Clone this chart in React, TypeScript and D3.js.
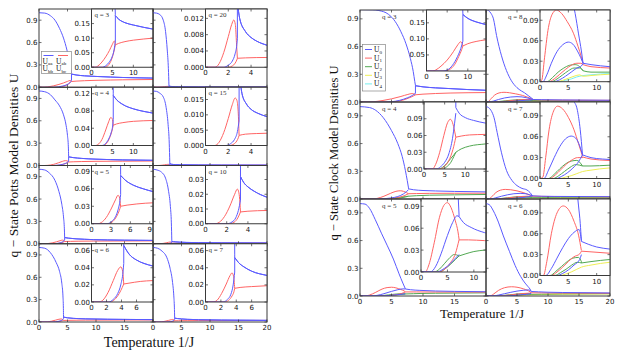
import React from "react";
import * as d3 from "d3";

type Pt = [number, number];
type Curve = { c: string; pts: Pt[] };

// ---------- Potts model: U_aa (pre Tc), common U after Tc, U_bb, U_ab, U_ab after Tc, U_bc ----------
const pottsQ3Aa: Pt[] = [[0, 1], [1, 0.995], [2, 0.96], [2.8, 0.9], [3.6, 0.79], [4.3, 0.66], [4.9, 0.5], [5.3, 0.36], [5.55, 0.25], [5.7, 0.18]];
const pottsQ3Post: Pt[] = [[5.7, 0.177], [6.5, 0.165], [8, 0.153], [10, 0.145], [12.5, 0.137], [14.7, 0.131], [17, 0.127], [20, 0.123]];
const pottsQ3Bb: Pt[] = [[0, 0], [2.6, 0], [3.4, 0.005], [4.2, 0.017], [4.9, 0.035], [5.4, 0.06], [5.7, 0.09]];
const pottsQ3Ab: Pt[] = [[0, 0], [0.9, 0], [1.5, 0.004], [2.5, 0.018], [3.5, 0.038], [4.3, 0.058], [5, 0.079], [5.45, 0.09], [5.6, 0.088], [5.7, 0.078]];
const pottsQ3AbPost: Pt[] = [[5.7, 0.077], [6.5, 0.082], [8, 0.088], [10, 0.093], [12.5, 0.097], [14.7, 0.1], [20, 0.104]];
const pottsQ3Bc: Pt[] = [[0, 0], [3.2, 0], [3.9, 0.005], [4.6, 0.02], [5.2, 0.045], [5.5, 0.063], [5.7, 0.077]];

const pottsQ4Aa: Pt[] = [[0, 1], [1, 0.99], [2, 0.95], [2.8, 0.88], [3.6, 0.8], [4.3, 0.68], [4.75, 0.54], [5.0, 0.4], [5.15, 0.25], [5.2, 0.12]];
const pottsQ4Post: Pt[] = [[5.2, 0.116], [6, 0.106], [7.5, 0.095], [10, 0.085], [12.5, 0.079], [14.7, 0.075], [20, 0.07]];
const pottsQ4Bb: Pt[] = [[0, 0], [2.5, 0], [3.3, 0.004], [4.1, 0.015], [4.7, 0.03], [5.05, 0.045], [5.2, 0.06]];
const pottsQ4Ab: Pt[] = [[0, 0], [1, 0], [1.5, 0.002], [2.5, 0.014], [3.4, 0.036], [4.1, 0.055], [4.6, 0.065], [4.95, 0.062], [5.2, 0.047]];
const pottsQ4AbPost: Pt[] = [[5.2, 0.047], [6, 0.05], [7.5, 0.053], [10, 0.056], [14.7, 0.058], [20, 0.06]];
const pottsQ4Bc: Pt[] = [[0, 0], [2.9, 0], [3.6, 0.005], [4.3, 0.017], [4.9, 0.034], [5.2, 0.047]];

const pottsQ5Aa: Pt[] = [[0, 1], [1, 0.99], [1.8, 0.95], [2.8, 0.85], [3.5, 0.7], [4.0, 0.53], [4.3, 0.36], [4.45, 0.2], [4.5, 0.085]];
const pottsQ5Post: Pt[] = [[4.5, 0.083], [5.2, 0.075], [6.5, 0.066], [8, 0.06], [9.6, 0.055], [12, 0.051], [15, 0.048], [20, 0.045]];
const pottsQ5Bb: Pt[] = [[0, 0], [2.4, 0], [3.1, 0.004], [3.7, 0.012], [4.1, 0.024], [4.4, 0.04], [4.5, 0.05]];
const pottsQ5Ab: Pt[] = [[0, 0], [1, 0], [1.5, 0.002], [2.3, 0.011], [3.1, 0.027], [3.7, 0.041], [4.1, 0.049], [4.3, 0.046], [4.5, 0.03]];
const pottsQ5AbPost: Pt[] = [[4.5, 0.03], [5.5, 0.032], [7, 0.034], [9.6, 0.036], [20, 0.038]];
const pottsQ5Bc: Pt[] = [[0, 0], [2.7, 0], [3.3, 0.004], [3.9, 0.013], [4.3, 0.023], [4.5, 0.03]];

const pottsQ6Aa: Pt[] = [[0, 1], [1, 0.99], [2, 0.93], [3, 0.8], [3.6, 0.68], [4.0, 0.52], [4.2, 0.35], [4.28, 0.18], [4.3, 0.068]];
const pottsQ6Post: Pt[] = [[4.3, 0.066], [5, 0.056], [6, 0.049], [7, 0.045], [8.2, 0.042], [12, 0.037], [16, 0.034], [20, 0.032]];
const pottsQ6Bb: Pt[] = [[0, 0], [2.3, 0], [2.9, 0.003], [3.5, 0.01], [3.9, 0.02], [4.2, 0.035], [4.3, 0.045]];
const pottsQ6Ab: Pt[] = [[0, 0], [1, 0], [1.5, 0.002], [2.2, 0.011], [2.9, 0.025], [3.5, 0.037], [3.9, 0.041], [4.15, 0.036], [4.3, 0.021]];
const pottsQ6AbPost: Pt[] = [[4.3, 0.021], [5, 0.022], [6.5, 0.024], [8.2, 0.025], [20, 0.027]];
const pottsQ6Bc: Pt[] = [[0, 0], [2.5, 0], [3.1, 0.003], [3.7, 0.01], [4.1, 0.017], [4.3, 0.021]];

const pottsQ20Aa: Pt[] = [[0, 1], [0.6, 0.995], [1.2, 0.975], [1.8, 0.9], [2.2, 0.75], [2.5, 0.5], [2.7, 0.25], [2.8, 0.02]];
const pottsQ20Post: Pt[] = [[2.8, 0.016], [3.0, 0.012], [3.5, 0.0088], [4, 0.0073], [4.5, 0.0064], [5.4, 0.0054], [8, 0.004], [12, 0.003], [20, 0.0022]];
const pottsQ20Bb: Pt[] = [[0, 0], [1.6, 0], [2.0, 0.0005], [2.35, 0.0015], [2.6, 0.0033], [2.75, 0.0055], [2.8, 0.007]];
const pottsQ20Ab: Pt[] = [[0, 0], [0.8, 0], [1.2, 0.0009], [1.6, 0.0036], [2.0, 0.0075], [2.3, 0.0105], [2.48, 0.0116], [2.62, 0.0105], [2.72, 0.006], [2.8, 0.0022]];
const pottsQ20AbPost: Pt[] = [[2.8, 0.0022], [3.5, 0.0023], [5.4, 0.0024], [20, 0.0025]];
const pottsQ20Bc: Pt[] = [[0, 0], [2.0, 0], [2.35, 0.0003], [2.6, 0.001], [2.75, 0.0018], [2.8, 0.0022]];

const pottsQ15Aa: Pt[] = [[0, 1], [0.6, 0.995], [1.2, 0.97], [1.8, 0.92], [2.3, 0.78], [2.65, 0.55], [2.85, 0.3], [2.95, 0.03]];
const pottsQ15Post: Pt[] = [[2.95, 0.025], [3.2, 0.017], [3.6, 0.0135], [4, 0.0118], [4.6, 0.0105], [5.4, 0.0094], [8, 0.007], [12, 0.0055], [20, 0.0045]];
const pottsQ15Bb: Pt[] = [[0, 0], [1.8, 0], [2.2, 0.0006], [2.55, 0.002], [2.8, 0.0045], [2.95, 0.008]];
const pottsQ15Ab: Pt[] = [[0, 0], [0.8, 0], [1.2, 0.0011], [1.6, 0.0042], [2.0, 0.0088], [2.35, 0.0133], [2.6, 0.0155], [2.75, 0.0148], [2.87, 0.011], [2.95, 0.0033]];
const pottsQ15AbPost: Pt[] = [[2.95, 0.0033], [3.5, 0.0037], [4.5, 0.0039], [5.4, 0.004], [20, 0.0045]];
const pottsQ15Bc: Pt[] = [[0, 0], [2.1, 0], [2.5, 0.0005], [2.75, 0.0015], [2.9, 0.0027], [2.95, 0.0033]];

const pottsQ10Aa: Pt[] = [[0, 1], [0.7, 0.99], [1.5, 0.96], [2.2, 0.88], [2.7, 0.72], [3.05, 0.5], [3.22, 0.28], [3.3, 0.04]];
const pottsQ10Post: Pt[] = [[3.3, 0.032], [3.6, 0.028], [4, 0.025], [4.6, 0.022], [5.8, 0.018], [8, 0.015], [12, 0.012], [20, 0.01]];
const pottsQ10Bb: Pt[] = [[0, 0], [2.0, 0], [2.5, 0.0012], [2.85, 0.004], [3.1, 0.009], [3.3, 0.016]];
const pottsQ10Ab: Pt[] = [[0, 0], [0.9, 0], [1.3, 0.001], [1.8, 0.005], [2.3, 0.012], [2.75, 0.02], [3.0, 0.0235], [3.15, 0.021], [3.25, 0.014], [3.3, 0.008]];
const pottsQ10AbPost: Pt[] = [[3.3, 0.008], [4, 0.0085], [5.8, 0.009], [20, 0.01]];
const pottsQ10Bc: Pt[] = [[0, 0], [2.3, 0], [2.7, 0.001], [3.05, 0.004], [3.3, 0.008]];

const pottsQ7Aa: Pt[] = [[0, 1], [0.8, 0.99], [1.6, 0.95], [2.4, 0.87], [3.0, 0.72], [3.4, 0.55], [3.65, 0.35], [3.75, 0.2], [3.8, 0.055]];
const pottsQ7Post: Pt[] = [[3.8, 0.052], [4.3, 0.046], [5, 0.041], [6, 0.036], [8, 0.031], [12, 0.026], [20, 0.022]];
const pottsQ7Bb: Pt[] = [[0, 0], [2.3, 0], [2.85, 0.003], [3.3, 0.009], [3.6, 0.02], [3.8, 0.035]];
const pottsQ7Ab: Pt[] = [[0, 0], [1, 0], [1.5, 0.002], [2.1, 0.01], [2.7, 0.021], [3.2, 0.031], [3.45, 0.034], [3.65, 0.03], [3.8, 0.016]];
const pottsQ7AbPost: Pt[] = [[3.8, 0.016], [4.5, 0.017], [6, 0.018], [8, 0.019], [20, 0.021]];
const pottsQ7Bc: Pt[] = [[0, 0], [2.5, 0], [3.0, 0.002], [3.45, 0.007], [3.7, 0.012], [3.8, 0.016]];

// ---------- Clock model ----------
const clockQ3U0a: Pt[] = [[0, 1], [2, 0.998], [3, 0.99], [4.5, 0.95], [5.6, 0.87], [6.5, 0.76], [7.3, 0.63], [8, 0.47], [8.45, 0.33], [8.7, 0.22], [8.8, 0.18]];
const clockQ3U0Post: Pt[] = [[8.8, 0.176], [10, 0.164], [12, 0.153], [14.3, 0.145], [17, 0.135], [20, 0.127]];
const clockQ3U0b: Pt[] = [[0, 0], [4, 0], [5, 0.003], [6.3, 0.018], [7.5, 0.045], [8.3, 0.07], [8.8, 0.093]];
const clockQ3U1a: Pt[] = [[0, 0], [1.5, 0], [2.2, 0.003], [3.5, 0.015], [5, 0.034], [6.5, 0.06], [7.6, 0.082], [8.25, 0.091], [8.6, 0.087], [8.8, 0.078]];
const clockQ3U1Post: Pt[] = [[8.8, 0.078], [10, 0.085], [12, 0.092], [14.3, 0.097], [20, 0.102]];
const clockQ3U1b: Pt[] = [[0, 0], [4.5, 0], [5.5, 0.004], [6.8, 0.02], [7.8, 0.045], [8.5, 0.066], [8.8, 0.078]];

const clockQ4U0a: Pt[] = [[0, 1], [1.5, 0.99], [2.5, 0.96], [3.7, 0.88], [5, 0.74], [6, 0.6], [6.7, 0.46], [7.2, 0.31], [7.5, 0.2], [7.7, 0.12]];
const clockQ4U0Post: Pt[] = [[7.7, 0.11], [8.5, 0.1], [10, 0.092], [12, 0.087], [15, 0.082], [20, 0.077]];
const clockQ4U0b: Pt[] = [[0, 0], [3, 0], [4, 0.004], [5, 0.012], [6, 0.027], [6.9, 0.055], [7.4, 0.082], [7.7, 0.1]];
const clockQ4U1a: Pt[] = [[0, 0], [2, 0], [2.8, 0.008], [3.8, 0.03], [4.8, 0.06], [5.7, 0.083], [6.4, 0.089], [6.9, 0.083], [7.4, 0.068], [7.7, 0.057]];
const clockQ4U1Post: Pt[] = [[7.7, 0.057], [9, 0.059], [11, 0.061], [15, 0.062], [20, 0.063]];
const clockQ4U1b: Pt[] = [[0, 0], [4, 0], [5, 0.005], [6, 0.015], [7, 0.035], [7.7, 0.057]];
const clockQ4U2a: Pt[] = [[0, 0], [3.5, 0], [4.5, 0.003], [5.5, 0.01], [6.5, 0.019], [7.2, 0.025], [7.7, 0.03]];
const clockQ4U2Post: Pt[] = [[7.7, 0.03], [9, 0.036], [11, 0.041], [15, 0.045], [20, 0.049]];
const clockQ4U2b: Pt[] = [[0, 0], [4.5, 0], [5.5, 0.004], [6.5, 0.012], [7.2, 0.022], [7.7, 0.03]];

const clockQ5U0a: Pt[] = [[0, 1], [0.8, 0.995], [1.5, 0.95], [2.4, 0.83], [3.4, 0.68], [4.3, 0.55], [5.3, 0.4], [6.2, 0.24], [6.8, 0.14], [7.2, 0.078]];
const clockQ5U0Post: Pt[] = [[7.2, 0.076], [8, 0.068], [9.5, 0.061], [12, 0.054], [15, 0.05], [20, 0.046]];
const clockQ5U0b: Pt[] = [[0, 0], [1.8, 0], [2.8, 0.008], [3.8, 0.025], [5, 0.05], [6, 0.068], [6.8, 0.077], [7.2, 0.076]];
const clockQ5U0c: Pt[] = [[0, 0], [3, 0], [4, 0.003], [5, 0.008], [6, 0.015], [7.2, 0.024]];
const clockQ5U1a: Pt[] = [[0, 0], [0.8, 0], [1.5, 0.01], [2.5, 0.04], [3.5, 0.075], [4.3, 0.091], [5, 0.095], [5.7, 0.088], [6.5, 0.07], [7, 0.055], [7.2, 0.045]];
const clockQ5U1Post: Pt[] = [[7.2, 0.044], [9, 0.044], [12, 0.043], [20, 0.042]];
const clockQ5U1b: Pt[] = [[0, 0], [3.5, 0], [4.5, 0.004], [5.5, 0.012], [6.5, 0.025], [7.2, 0.044]];
const clockQ5U2a: Pt[] = [[0, 0], [2.5, 0], [3.5, 0.004], [4.5, 0.012], [5.5, 0.02], [6.3, 0.024], [7.2, 0.022]];
const clockQ5U2Post: Pt[] = [[7.2, 0.022], [8.5, 0.025], [10, 0.028], [12, 0.03], [20, 0.034]];
const clockQ5U2b: Pt[] = [[0, 0], [3.5, 0], [4.5, 0.004], [5.5, 0.01], [6.5, 0.017], [7.2, 0.022]];

const clockQ8U0a: Pt[] = [[0, 1], [0.4, 0.99], [0.8, 0.96], [1.2, 0.9], [1.7, 0.72], [2.5, 0.5], [3.3, 0.34], [4.1, 0.23], [5, 0.155], [5.7, 0.12], [6.2, 0.1], [6.8, 0.07], [7.3, 0.045], [7.6, 0.027]];
const clockQ8U0Post: Pt[] = [[7.6, 0.027], [9, 0.025], [12.3, 0.022], [20, 0.019]];
const clockQ8U0b: Pt[] = [[0, 0], [0.5, 0], [1.2, 0.01], [2, 0.027], [3, 0.044], [4, 0.054], [5, 0.058], [5.8, 0.055], [6.6, 0.045], [7.2, 0.035], [7.6, 0.027]];
const clockQ8U0c: Pt[] = [[0, 0], [2.5, 0], [3.5, 0.003], [4.5, 0.008], [5.5, 0.014], [6.5, 0.02], [7.3, 0.023], [7.6, 0.027]];
const clockQ8U1a: Pt[] = [[0, 0], [0.3, 0.002], [0.8, 0.035], [1.4, 0.075], [2.1, 0.098], [2.9, 0.105], [3.8, 0.1], [4.8, 0.088], [5.9, 0.071], [6.7, 0.052], [7.3, 0.036], [7.6, 0.027]];
const clockQ8U1b: Pt[] = [[0, 0], [1.5, 0], [2.5, 0.004], [3.5, 0.011], [4.5, 0.018], [5.5, 0.024], [6.5, 0.027], [7.2, 0.027], [7.6, 0.025]];
const clockQ8U1Post: Pt[] = [[7.6, 0.025], [9, 0.022], [12.3, 0.02], [20, 0.018]];
const clockQ8U2a: Pt[] = [[0, 0], [1.2, 0], [2.2, 0.006], [3.2, 0.014], [4.2, 0.02], [5.2, 0.024], [6.2, 0.025], [7, 0.022], [7.6, 0.016]];
const clockQ8U2b: Pt[] = [[0, 0], [2, 0], [3, 0.004], [4, 0.01], [5, 0.016], [6, 0.02], [7, 0.02], [7.6, 0.016]];
const clockQ8U2Post: Pt[] = [[7.6, 0.016], [9, 0.014], [12.3, 0.014], [20, 0.013]];
const clockQ8U3a: Pt[] = [[0, 0], [3, 0], [4, 0.002], [5, 0.005], [6, 0.008], [7, 0.01], [7.6, 0.008], [9, 0.009], [12.3, 0.011], [20, 0.012]];
const clockQ8U4a: Pt[] = [[0, 0], [3.5, 0], [4.5, 0.002], [5.5, 0.004], [6.5, 0.007], [7.6, 0.009], [9, 0.01], [12.3, 0.012], [20, 0.012]];

const clockQ7U0a: Pt[] = [[0, 1], [0.4, 0.99], [0.8, 0.96], [1.3, 0.88], [1.8, 0.72], [2.5, 0.5], [3.3, 0.31], [4.2, 0.2], [5, 0.145], [5.8, 0.115], [6.6, 0.098], [7.1, 0.07], [7.5, 0.034]];
const clockQ7U0Post: Pt[] = [[7.5, 0.034], [9, 0.03], [11, 0.028], [20, 0.025]];
const clockQ7U0b: Pt[] = [[0, 0], [0.7, 0], [1.5, 0.012], [2.5, 0.03], [3.5, 0.046], [4.5, 0.057], [5.5, 0.061], [6.3, 0.058], [7, 0.047], [7.5, 0.034]];
const clockQ7U0c: Pt[] = [[0, 0], [2.8, 0], [3.8, 0.003], [4.8, 0.008], [5.8, 0.015], [6.8, 0.024], [7.5, 0.034]];
const clockQ7U1a: Pt[] = [[0, 0], [0.5, 0.002], [1, 0.03], [1.6, 0.07], [2.3, 0.095], [3.1, 0.104], [4, 0.1], [5, 0.088], [6, 0.07], [6.8, 0.05], [7.5, 0.032]];
const clockQ7U1b: Pt[] = [[0, 0], [1.7, 0], [2.7, 0.005], [3.7, 0.013], [4.7, 0.021], [5.7, 0.027], [6.6, 0.03], [7.5, 0.03]];
const clockQ7U1Post: Pt[] = [[7.5, 0.031], [9, 0.028], [12, 0.026], [20, 0.024]];
const clockQ7U2a: Pt[] = [[0, 0], [1.5, 0], [2.5, 0.006], [3.5, 0.014], [4.5, 0.021], [5.5, 0.025], [6.5, 0.026], [7.5, 0.018]];
const clockQ7U2b: Pt[] = [[0, 0], [2.3, 0], [3.3, 0.004], [4.3, 0.01], [5.3, 0.016], [6.3, 0.02], [7.5, 0.018]];
const clockQ7U2Post: Pt[] = [[7.5, 0.018], [9, 0.018], [12, 0.019], [20, 0.02]];
const clockQ7U3a: Pt[] = [[0, 0], [3.5, 0], [4.5, 0.002], [5.5, 0.004], [6.5, 0.007], [7.5, 0.01], [9, 0.012], [12, 0.015], [20, 0.017]];

const clockQ6U0a: Pt[] = [[0, 1], [0.5, 0.99], [1.2, 0.92], [2, 0.8], [2.8, 0.65], [3.8, 0.48], [4.7, 0.33], [5.6, 0.21], [6.3, 0.14], [6.8, 0.1], [7.1, 0.075], [7.3, 0.05]];
const clockQ6U0Post: Pt[] = [[7.3, 0.049], [8.5, 0.045], [10, 0.041], [12.3, 0.038], [20, 0.033]];
const clockQ6U0b: Pt[] = [[0, 0], [1, 0], [2, 0.01], [3, 0.025], [4, 0.04], [5, 0.053], [6, 0.062], [6.9, 0.066], [7.3, 0.05]];
const clockQ6U0c: Pt[] = [[0, 0], [3, 0], [4, 0.003], [5, 0.008], [6, 0.015], [7, 0.023], [7.3, 0.03]];
const clockQ6U1a: Pt[] = [[0, 0], [0.6, 0], [1.2, 0.02], [2, 0.06], [3, 0.09], [4.1, 0.1], [5, 0.095], [6, 0.078], [6.8, 0.058], [7.3, 0.036]];
const clockQ6U1b: Pt[] = [[0, 0], [2, 0], [3, 0.005], [4, 0.012], [5, 0.02], [6, 0.027], [7, 0.031], [7.3, 0.035]];
const clockQ6U1Post: Pt[] = [[7.3, 0.035], [9, 0.034], [12.3, 0.032], [20, 0.03]];
const clockQ6U2a: Pt[] = [[0, 0], [1.8, 0], [2.8, 0.006], [3.8, 0.013], [4.8, 0.02], [5.8, 0.025], [6.8, 0.026], [7.3, 0.02]];
const clockQ6U2b: Pt[] = [[0, 0], [2.6, 0], [3.6, 0.004], [4.6, 0.009], [5.6, 0.015], [6.6, 0.019], [7.3, 0.018]];
const clockQ6U2Post: Pt[] = [[7.3, 0.018], [9, 0.02], [12.3, 0.023], [20, 0.026]];
const clockQ6U3a: Pt[] = [[0, 0], [3.5, 0], [4.5, 0.002], [5.5, 0.005], [6.5, 0.009], [7.3, 0.012], [9, 0.015], [12.3, 0.019], [20, 0.022]];

const mainYTicks = [0, 0.3, 0.6, 0.9];
const mainXTicks = [0, 5, 10, 15, 20];
const clockLegend = ["0", "1", "2", "3", "4"];

const COLORS: Record<string, string> = {
  b: "#5a5aff",
  r: "#ff6464",
  g: "#52a852",
  y: "#eeee55",
  c: "#77eeee",
};

function potts(aa: Pt[], post: Pt[], bb: Pt[], ab: Pt[], abPost: Pt[], bc: Pt[]): Curve[] {
  return [
    { c: "r", pts: [...ab, ...abPost] },
    { c: "r", pts: bc },
    { c: "b", pts: [...bb, ...post] },
    { c: "b", pts: [...aa, ...post] },
  ];
}

const pottsPanels = [
  { q: "3", col: 0, row: 0, curves: potts(pottsQ3Aa, pottsQ3Post, pottsQ3Bb, pottsQ3Ab, pottsQ3AbPost, pottsQ3Bc), xMax: 14.7, yMax: 0.2, xt: [0, 5, 10], yt: [0, 0.05, 0.1, 0.15], f: ".2f" },
  { q: "20", col: 1, row: 0, curves: potts(pottsQ20Aa, pottsQ20Post, pottsQ20Bb, pottsQ20Ab, pottsQ20AbPost, pottsQ20Bc), xMax: 5.4, yMax: 0.0143, xt: [0, 2, 4], yt: [0, 0.004, 0.008, 0.012], f: ".3f" },
  { q: "4", col: 0, row: 1, curves: potts(pottsQ4Aa, pottsQ4Post, pottsQ4Bb, pottsQ4Ab, pottsQ4AbPost, pottsQ4Bc), xMax: 14.7, yMax: 0.135, xt: [0, 5, 10], yt: [0, 0.04, 0.08, 0.12], f: ".2f" },
  { q: "15", col: 1, row: 1, curves: potts(pottsQ15Aa, pottsQ15Post, pottsQ15Bb, pottsQ15Ab, pottsQ15AbPost, pottsQ15Bc), xMax: 5.4, yMax: 0.019, xt: [0, 2, 4], yt: [0, 0.005, 0.01, 0.015], f: ".3f" },
  { q: "5", col: 0, row: 2, curves: potts(pottsQ5Aa, pottsQ5Post, pottsQ5Bb, pottsQ5Ab, pottsQ5AbPost, pottsQ5Bc), xMax: 9.5, yMax: 0.1, xt: [0, 3, 6, 9], yt: [0, 0.03, 0.06, 0.09], f: ".2f" },
  { q: "10", col: 1, row: 2, curves: potts(pottsQ10Aa, pottsQ10Post, pottsQ10Bb, pottsQ10Ab, pottsQ10AbPost, pottsQ10Bc), xMax: 5.8, yMax: 0.0395, xt: [0, 2, 4], yt: [0, 0.01, 0.02, 0.03], f: ".2f" },
  { q: "6", col: 0, row: 3, curves: potts(pottsQ6Aa, pottsQ6Post, pottsQ6Bb, pottsQ6Ab, pottsQ6AbPost, pottsQ6Bc), xMax: 8.2, yMax: 0.068, xt: [0, 2, 4, 6], yt: [0, 0.02, 0.04, 0.06], f: ".2f" },
  { q: "7", col: 1, row: 3, curves: potts(pottsQ7Aa, pottsQ7Post, pottsQ7Bb, pottsQ7Ab, pottsQ7AbPost, pottsQ7Bc), xMax: 8, yMax: 0.068, xt: [0, 2, 4, 6], yt: [0, 0.02, 0.04, 0.06], f: ".2f" },
];

const clockPanels = [
  {
    q: "3", col: 0, row: 0, xMax: 14.4, yMax: 0.19, yt: [0.05, 0.1, 0.15], inLeft: 426.5, inBottom: 71,
    curves: [
      { c: "r", pts: [...clockQ3U1a, ...clockQ3U1Post] }, { c: "r", pts: clockQ3U1b },
      { c: "b", pts: [...clockQ3U0b, ...clockQ3U0Post] }, { c: "b", pts: [...clockQ3U0a, ...clockQ3U0Post] },
    ],
  },
  {
    q: "4", col: 0, row: 1, xMax: 15, yMax: 0.12, yt: [0, 0.03, 0.06, 0.09], inLeft: 424, inBottom: 169,
    curves: [
      { c: "g", pts: [...clockQ4U2a, ...clockQ4U2Post] }, { c: "g", pts: clockQ4U2b },
      { c: "r", pts: [...clockQ4U1a, ...clockQ4U1Post] }, { c: "r", pts: clockQ4U1b },
      { c: "b", pts: clockQ4U0b }, { c: "b", pts: [...clockQ4U0a, ...clockQ4U0Post] },
    ],
  },
  {
    q: "5", col: 0, row: 2, xMax: 12.3, yMax: 0.1, yt: [0, 0.03, 0.06, 0.09], inLeft: 421, inBottom: 272,
    curves: [
      { c: "g", pts: [...clockQ5U2a, ...clockQ5U2Post] }, { c: "g", pts: clockQ5U2b },
      { c: "r", pts: [...clockQ5U1a, ...clockQ5U1Post] }, { c: "r", pts: clockQ5U1b },
      { c: "b", pts: clockQ5U0b }, { c: "b", pts: clockQ5U0c }, { c: "b", pts: [...clockQ5U0a, ...clockQ5U0Post] },
    ],
  },
  {
    q: "8", col: 1, row: 0, xMax: 12.35, yMax: 0.105, yt: [0, 0.03, 0.06, 0.09], inLeft: 540, inBottom: 81.7,
    curves: [
      { c: "c", pts: clockQ8U4a }, { c: "y", pts: clockQ8U3a },
      { c: "g", pts: [...clockQ8U2a, ...clockQ8U2Post] }, { c: "g", pts: clockQ8U2b },
      { c: "r", pts: clockQ8U1a }, { c: "r", pts: [...clockQ8U1b, ...clockQ8U1Post] },
      { c: "b", pts: clockQ8U0b }, { c: "b", pts: clockQ8U0c }, { c: "b", pts: [...clockQ8U0a, ...clockQ8U0Post] },
    ],
  },
  {
    q: "7", col: 1, row: 1, xMax: 12.35, yMax: 0.11, yt: [0, 0.03, 0.06, 0.09], inLeft: 540, inBottom: 178.5,
    curves: [
      { c: "y", pts: clockQ7U3a },
      { c: "g", pts: [...clockQ7U2a, ...clockQ7U2Post] }, { c: "g", pts: clockQ7U2b },
      { c: "r", pts: clockQ7U1a }, { c: "r", pts: [...clockQ7U1b, ...clockQ7U1Post] },
      { c: "b", pts: clockQ7U0b }, { c: "b", pts: clockQ7U0c }, { c: "b", pts: [...clockQ7U0a, ...clockQ7U0Post] },
    ],
  },
  {
    q: "6", col: 1, row: 2, xMax: 12.35, yMax: 0.11, yt: [0, 0.03, 0.06, 0.09], inLeft: 540, inBottom: 275.5,
    curves: [
      { c: "y", pts: clockQ6U3a },
      { c: "g", pts: [...clockQ6U2a, ...clockQ6U2Post] }, { c: "g", pts: clockQ6U2b },
      { c: "r", pts: clockQ6U1a }, { c: "r", pts: [...clockQ6U1b, ...clockQ6U1Post] },
      { c: "b", pts: clockQ6U0b }, { c: "b", pts: clockQ6U0c }, { c: "b", pts: [...clockQ6U0a, ...clockQ6U0Post] },
    ],
  },
];

// split at repeated x (vertical jumps), smooth each piece
function pathOf(pts: Pt[], x: (v: number) => number, y: (v: number) => number): string {
  const segs: Pt[][] = [];
  let cur: Pt[] = [];
  pts.forEach((p, i) => {
    if (i > 0 && p[0] === pts[i - 1][0]) {
      segs.push(cur);
      cur = [];
    }
    cur.push(p);
  });
  segs.push(cur);
  const line = d3.line<Pt>().x((d) => x(d[0])).y((d) => y(d[1])).curve(d3.curveMonotoneX);
  return segs
    .map((s, i) => {
      const d = s.length > 1 ? (line(s) as string) : `M${x(s[0][0])},${y(s[0][1])}`;
      return i === 0 ? d : "L" + d.slice(1);
    })
    .join("");
}

const TICK_FONT = "DejaVu Sans, sans-serif";
const SERIF = "Liberation Serif, DejaVu Serif, serif";

type AxesProps = {
  id: string;
  left: number; right: number; top: number; bottom: number; scaleTop?: number;
  xMax: number; yMax: number;
  xTicks: number[]; yTicks: number[];
  xLabels?: number[]; yLabels?: boolean; yFmt?: string;
  curves: Curve[]; fill?: boolean;
};

function Axes(p: AxesProps) {
  const x = d3.scaleLinear().domain([0, p.xMax]).range([p.left, p.right]);
  const y = d3.scaleLinear().domain([0, p.yMax]).range([p.bottom, p.scaleTop ?? p.top]);
  const fmt = d3.format(p.yFmt || ".1f");
  const tl = 2.5;
  return (
    <g>
      <defs>
        <clipPath id={p.id}>
          <rect x={p.left} y={p.top} width={p.right - p.left} height={p.bottom - p.top} />
        </clipPath>
      </defs>
      {p.fill && <rect x={p.left} y={p.top} width={p.right - p.left} height={p.bottom - p.top} fill="#fff" />}
      <g clipPath={`url(#${p.id})`}>
        {p.curves.map((c, i) => (
          <path key={i} d={pathOf(c.pts, x, y)} fill="none" stroke={COLORS[c.c]} strokeWidth={1} />
        ))}
      </g>
      <g stroke="#333" strokeWidth={0.7}>
        {p.xTicks.filter((v) => v <= p.xMax).map((v) => (
          <g key={"x" + v}>
            <line x1={x(v)} x2={x(v)} y1={p.bottom} y2={p.bottom - tl} />
            <line x1={x(v)} x2={x(v)} y1={p.top} y2={p.top + tl} />
          </g>
        ))}
        {p.yTicks.filter((v) => y(v) >= p.top).map((v) => (
          <g key={"y" + v}>
            <line x1={p.left} x2={p.left + tl} y1={y(v)} y2={y(v)} />
            <line x1={p.right} x2={p.right - tl} y1={y(v)} y2={y(v)} />
          </g>
        ))}
      </g>
      <rect x={p.left} y={p.top} width={p.right - p.left} height={p.bottom - p.top} fill="none" stroke="#3a3a3a" strokeWidth={1} />
      <g fontFamily={TICK_FONT} fontSize={7} fill="#111">
        {(p.xLabels || []).map((v) => (
          <text key={"xl" + v} x={x(v)} y={p.bottom + 8} textAnchor="middle">{v}</text>
        ))}
        {p.yLabels && p.yTicks.map((v) => (
          <text key={"yl" + v} x={p.left - 1.5} y={y(v) + 2.5} textAnchor="end">{fmt(v)}</text>
        ))}
      </g>
    </g>
  );
}

function Sub({ base, sub, x, y }: { base: string; sub: string; x: number; y: number }) {
  return (
    <text x={x} y={y} fontFamily={SERIF} fontSize={7.5} fill="#111">
      {base}
      <tspan fontSize={5} dy={1.5}>{sub}</tspan>
    </text>
  );
}

export default function App() {
  // Potts layout
  const pCols = [[39, 153], [153, 267]];
  const pTop = 9;
  const pRowH = 78.25;
  // Clock layout
  const cCols = [[360, 486], [486, 610]];
  const cBottoms = [102, 199, 296];
  const cRowH = 97;

  return (
    <svg width={623} height={353} style={{ position: "absolute", left: 0, top: 0, background: "#fff" }}>
      {/* ---------------- Potts ---------------- */}
      {pottsPanels.map((pp) => {
        const [l, r] = pCols[pp.col];
        const t = pTop + pp.row * pRowH;
        const b = t + pRowH;
        const il = l + 52.5;
        const ib = b - 20;
        return (
          <g key={"p" + pp.q}>
            <Axes
              id={"pm" + pp.q} left={l} right={r} top={t} bottom={b}
              xMax={20} yMax={1.05} xTicks={mainXTicks} yTicks={mainYTicks}
              xLabels={pp.row === 3 ? (pp.col === 0 ? [0, 5, 10, 15] : [0, 5, 10, 15, 20]) : []}
              yLabels={pp.col === 0} yFmt=".1f" curves={pp.curves}
            />
            <Axes
              id={"pi" + pp.q} left={il} right={r} top={t} bottom={ib}
              xMax={pp.xMax} yMax={pp.yMax} xTicks={pp.xt} yTicks={pp.yt}
              xLabels={pp.xt} yLabels yFmt={pp.f} curves={pp.curves} fill
            />
            <text x={il + 3} y={t + 8} fontFamily={SERIF} fontSize={7} fill="#333">{`q = ${pp.q}`}</text>
          </g>
        );
      })}
      {/* Potts legend */}
      <g>
        <rect x={41.5} y={51.5} width={30} height={22} fill="#fff" stroke="#888" strokeWidth={0.7} />
        <line x1={43.5} x2={53.5} y1={55.5} y2={55.5} stroke={COLORS.b} strokeWidth={1} />
        <line x1={58} x2={68} y1={55.5} y2={55.5} stroke={COLORS.r} strokeWidth={1} />
        <Sub base="U" sub="aa" x={42.5} y={63.5} />
        <Sub base="U" sub="ab" x={56} y={63.5} />
        <Sub base="U" sub="bb" x={42.5} y={71} />
        <Sub base="U" sub="bc" x={56} y={71} />
      </g>
      <text transform="translate(18,165.5) rotate(-90)" textAnchor="middle" fontFamily={SERIF} fontSize={13.5} fill="#111">
        q − State Potts Model Densities U
      </text>
      <text x={149} y={347} textAnchor="middle" fontFamily={SERIF} fontSize={14} fill="#111">Temperature 1/J</text>

      {/* ---------------- Clock ---------------- */}
      {clockPanels.map((cp) => {
        const [l, r] = cCols[cp.col];
        const b = cBottoms[cp.row];
        const st = b - cRowH;
        const t = cp.row === 0 ? 10 : st;
        return (
          <g key={"c" + cp.q}>
            <Axes
              id={"cm" + cp.q} left={l} right={r} top={t} bottom={b} scaleTop={st}
              xMax={20} yMax={1.05} xTicks={mainXTicks} yTicks={mainYTicks}
              xLabels={cp.row === 2 ? (cp.col === 0 ? [0, 5, 10, 15] : [0, 5, 10, 15, 20]) : []}
              yLabels={cp.col === 0} yFmt=".1f" curves={cp.curves}
            />
            <Axes
              id={"ci" + cp.q} left={cp.inLeft} right={r} top={t} bottom={cp.inBottom}
              xMax={cp.xMax} yMax={cp.yMax} xTicks={[0, 5, 10]} yTicks={cp.yt}
              xLabels={[0, 5, 10]} yLabels yFmt=".2f" curves={cp.curves} fill
            />
            <text x={l + 22} y={t + 9} fontFamily={SERIF} fontSize={7} fill="#333">{`q = ${cp.q}`}</text>
          </g>
        );
      })}
      {/* Clock legend */}
      <g>
        <rect x={362.5} y={44.5} width={23} height={46.5} fill="#fff" stroke="#888" strokeWidth={0.7} />
        {clockLegend.map((k, i) => (
          <g key={k}>
            <line x1={365} x2={372} y1={49.5 + i * 8.6} y2={49.5 + i * 8.6} stroke={COLORS[["b", "r", "g", "y", "c"][i]]} strokeWidth={1} />
            <Sub base="U" sub={k} x={374} y={52 + i * 8.6} />
          </g>
        ))}
      </g>
      <text transform="translate(338,153) rotate(-90)" textAnchor="middle" fontFamily={SERIF} fontSize={12.5} fill="#111">
        q − State Clock Model Densities U
      </text>
      <text x={482} y={318} textAnchor="middle" fontFamily={SERIF} fontSize={13} fill="#111">Temperature 1/J</text>
    </svg>
  );
}
